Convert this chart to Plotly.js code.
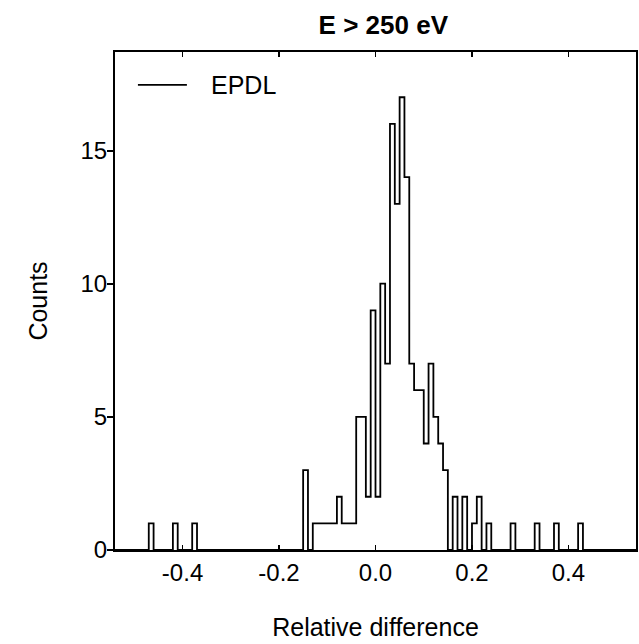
<!DOCTYPE html>
<html>
<head>
<meta charset="utf-8">
<script src="https://cdn.plot.ly/plotly-3.0.1.min.js"></script>
<style>html,body{margin:0;padding:0;background:#fff}#chart{width:639px;height:644px}</style>
</head>
<body>
<div id="chart"></div>
<script>
// Histogram of relative differences (EPDL, E > 250 eV), bin width 0.01
var binWidth = 0.01;
var binLow = [-0.47, -0.42, -0.38, -0.15, -0.13, -0.12, -0.11, -0.10, -0.09, -0.08, -0.07, -0.06, -0.05,
              -0.04, -0.03, -0.02, -0.01, 0.00, 0.01, 0.02, 0.03, 0.04, 0.05, 0.06, 0.07, 0.08, 0.09,
              0.10, 0.11, 0.12, 0.13, 0.14, 0.16, 0.18, 0.20, 0.21, 0.23, 0.28, 0.33, 0.37, 0.42];
var binCount = [1, 1, 1, 3, 1, 1, 1, 1, 1, 2, 1, 1, 1,
                5, 5, 2, 9, 2, 10, 7, 16, 13, 17, 14, 7, 6, 6,
                4, 7, 5, 4, 3, 2, 2, 1, 2, 1, 1, 1, 1, 1];
var xTickVals = [-0.4, -0.2, 0.0, 0.2, 0.4];
var xTickText = ["-0.4", "-0.2", "0.0", "0.2", "0.4"];
var yTickVals = [0, 5, 10, 15];
var seriesName = "EPDL";

// build a step outline over a full bin grid
var lo = -0.54, hi = 0.54;
var nBins = Math.round((hi - lo) / binWidth);
var counts = new Array(nBins).fill(0);
binLow.forEach(function (b, i) {
  var k = Math.round((b - lo) / binWidth);
  if (k >= 0 && k < nBins) counts[k] = binCount[i];
});
var xs = [], ys = [];
for (var k = 0; k < nBins; k++) { xs.push(lo + k * binWidth); ys.push(counts[k]); }
xs.push(hi); ys.push(0);

var font = "Liberation Sans, Arial, Helvetica, sans-serif";
var trace = {
  type: "scatter", mode: "lines", x: xs, y: ys, name: seriesName,
  line: {shape: "hv", color: "#000", width: 1.8},
  showlegend: false, hoverinfo: "x+y"
};

var layout = {
  width: 639, height: 644,
  margin: {l: 115, r: 3, t: 52, b: 94},
  paper_bgcolor: "#fff", plot_bgcolor: "#fff",
  font: {family: font, color: "#000", size: 24},
  title: {text: "<b>E > 250 eV</b>", font: {family: font, size: 26, color: "#000"},
          x: 0.515, xref: "paper", y: 0.961, yref: "container", yanchor: "middle"},
  xaxis: {
    range: [lo, hi], tickmode: "array", tickvals: xTickVals, ticktext: xTickText,
    ticks: "inside", ticklen: 5, tickwidth: 1.5, tickcolor: "#000",
    showline: true, linecolor: "#000", linewidth: 2, mirror: "ticks",
    showgrid: false, zeroline: false,
    tickfont: {size: 24},
    title: {text: "Relative difference", font: {size: 25}, standoff: 34}
  },
  yaxis: {
    range: [0, 18.7], tickmode: "array", tickvals: yTickVals,
    ticks: "outside", ticklen: 6, tickwidth: 2, tickcolor: "#000",
    showline: true, linecolor: "#000", linewidth: 2, mirror: true,
    showgrid: false, zeroline: false, ticklabelstandoff: -5,
    tickfont: {size: 24},
    title: {text: "Counts", font: {size: 25}, standoff: 26}
  },
  shapes: [{type: "line", xref: "paper", yref: "paper", x0: 0.044, x1: 0.138, y0: 0.934, y1: 0.934,
            line: {color: "#000", width: 1.8}}],
  annotations: [{text: seriesName, xref: "paper", yref: "paper", x: 0.18, y: 0.934,
                 xanchor: "left", yanchor: "middle", showarrow: false, font: {size: 25, color: "#000"}}]
};

Plotly.newPlot("chart", [trace], layout, {displayModeBar: false, staticPlot: true});
</script>
</body>
</html>
